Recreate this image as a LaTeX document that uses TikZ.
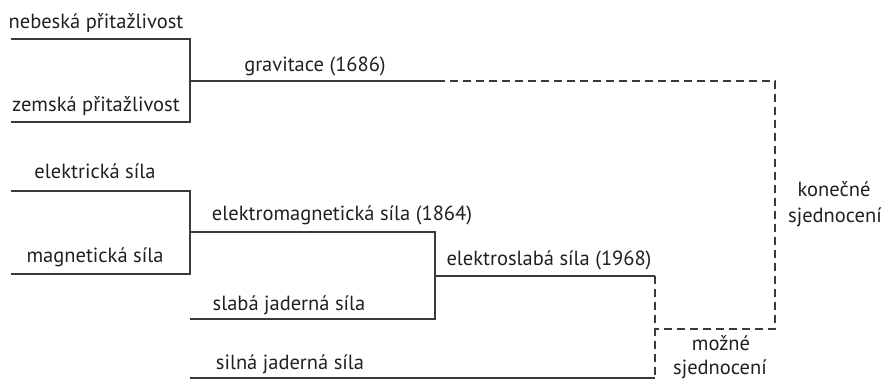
\documentclass[tikz,border=0pt]{standalone}
\usepackage{fontspec}
\setmainfont{PT Sans}
\definecolor{ink}{HTML}{231F20}
\definecolor{rule}{HTML}{3A3A3A}
\tikzset{
  lbl/.style={anchor=base, inner sep=0pt, text=ink, font=\fontsize{20.5}{24}\selectfont},
  solidline/.style={draw=rule, line width=1.1pt},
  dashline/.style={draw=rule, line width=1.1pt, dash pattern=on 8pt off 5pt},
}
\begin{document}
\begin{tikzpicture}[x=1pt,y=-1pt]
\useasboundingbox (0,0) rectangle (884,379);
% coordinates
\coordinate (nebL) at (11,39);   \coordinate (nebR) at (190,39);
\coordinate (zemL) at (11,122);  \coordinate (zemR) at (190,122);
\coordinate (gravL) at (190,81); \coordinate (gravR) at (437,81);
\coordinate (ultTop) at (775,81); \coordinate (ultBot) at (775,329);
\coordinate (elL) at (11,191);   \coordinate (elR) at (190,191);
\coordinate (magL) at (11,274);  \coordinate (magR) at (190,274);
\coordinate (emL) at (190,232);  \coordinate (emR) at (435,232);
\coordinate (slL) at (190,319);  \coordinate (slR) at (435,319);
\coordinate (ewL) at (435,276);  \coordinate (ewR) at (655,276);
\coordinate (siL) at (190,378);  \coordinate (siR) at (655,378);
\coordinate (gutJ) at (655,329);
% solid tree
\draw[solidline] (nebL) -- (nebR) -- (zemR) -- (zemL);
\draw[solidline] (gravL) -- (gravR);
\draw[solidline] (elL) -- (elR) -- (magR) -- (magL);
\draw[solidline] (emL) -- (emR) -- (slR) -- (slL);
\draw[solidline] (ewL) -- (ewR);
\draw[solidline] (siL) -- (siR);
% dashed unifications
\draw[dashline] (gravR) -- (ultTop) -- (ultBot) -- (gutJ);
\draw[dashline] (ewR) -- (siR);
% labels
\node[lbl] (tneb) at (96,29) {nebeská přitažlivost};
\node[lbl] (tzem) at (96,112) {zemská přitažlivost};
\node[lbl] (tgrav) at (315,72) {gravitace (1686)};
\node[lbl] (tel) at (95,179) {elektrická síla};
\node[lbl] (tmag) at (95,263) {magnetická síla};
\node[lbl] (tem) at (342,221) {elektromagnetická síla (1864)};
\node[lbl] (tsl) at (289,311) {slabá jaderná síla};
\node[lbl] (tsi) at (290,370) {silná jaderná síla};
\node[lbl] (tew) at (549,266) {elektroslabá síla (1968)};
\node[lbl] (tult1) at (834,197) {konečné};
\node[lbl] (tult2) at (835,223) {sjednocení};
\node[lbl] (tgut1) at (721,351) {možné};
\node[lbl] (tgut2) at (720,375) {sjednocení};
\end{tikzpicture}
\end{document}
